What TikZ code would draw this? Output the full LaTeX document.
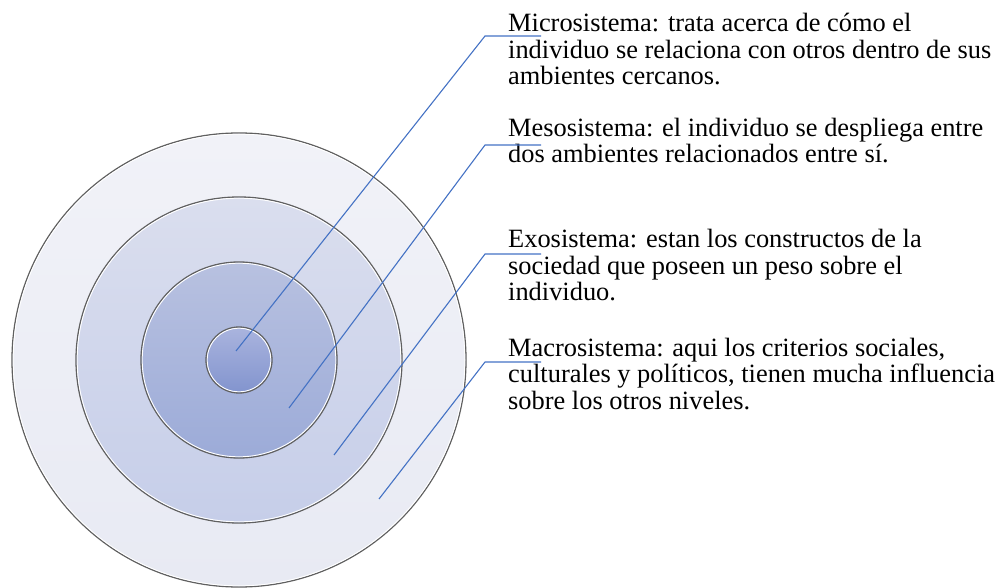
\documentclass[tikz,border=0pt]{standalone}
\usepackage{fontspec}
\setmainfont{Liberation Serif}
\begin{document}
\begin{tikzpicture}[x=1pt,y=-1pt,
  ring/.style={draw=gray!75!black, line width=1.3pt},
  ringin/.style={draw=white, line width=0.9pt},
  leader/.style={draw=leadc, line width=1.1pt},
  lbl/.style={anchor=base west, inner sep=0pt, align=left, font=\fontsize{26.4}{26.5}\selectfont}]
\definecolor{leadc}{HTML}{4472C4}
\useasboundingbox (0,0) rectangle (1002,588);
\coordinate (c) at (239,360);
% rings
\shade[top color={rgb,255:red,241;green,242;blue,248}, bottom color={rgb,255:red,232;green,234;blue,243}] (c) circle[radius=227];
\draw[ring] (c) circle[radius=227];
\draw[ringin] (c) circle[radius=225.8];
\shade[top color={rgb,255:red,218;green,222;blue,238}, bottom color={rgb,255:red,198;green,206;blue,233}] (c) circle[radius=163];
\draw[ring] (c) circle[radius=163];
\draw[ringin] (c) circle[radius=161.8];
\shade[top color={rgb,255:red,184;green,193;blue,224}, bottom color={rgb,255:red,156;green,171;blue,216}] (c) circle[radius=98];
\draw[ring] (c) circle[radius=98];
\draw[ringin] (c) circle[radius=96.8];
\shade[top color={rgb,255:red,170;green,180;blue,222}, bottom color={rgb,255:red,130;green,148;blue,206}] (c) circle[radius=33];
\draw[ring] (c) circle[radius=33];
\draw[ringin] (c) circle[radius=31.8];
% labels (anchored at the baseline of their last line)
\node[lbl] (micro) at (508,85) {Microsistema: trata acerca de cómo el\\individuo se relaciona con otros dentro de sus\\ambientes cercanos.};
\node[lbl] (meso) at (508,163) {Mesosistema: el individuo se despliega entre\\dos ambientes relacionados entre sí.};
\node[lbl] (exo) at (508,301) {Exosistema: estan los constructos de la\\sociedad que poseen un peso sobre el\\individuo.};
\node[lbl] (macro) at (508,409) {Macrosistema: aqui los criterios sociales,\\culturales y políticos, tienen mucha influencia\\sobre los otros niveles.};
% leader points
\coordinate (p1) at (236,351);
\coordinate (p2) at (289,408);
\coordinate (p3) at (334,455);
\coordinate (p4) at (379,499);
\coordinate (k1) at (485,36);
\coordinate (k2) at (485,145);
\coordinate (k3) at (485,254);
\coordinate (k4) at (485,362);
\coordinate (e1) at (541,36);
\coordinate (e2) at (541,145);
\coordinate (e3) at (541,254);
\coordinate (e4) at (541,362);
\draw[leader] (p1) -- (k1) -- (e1);
\draw[leader] (p2) -- (k2) -- (e2);
\draw[leader] (p3) -- (k3) -- (e3);
\draw[leader] (p4) -- (k4) -- (e4);
\end{tikzpicture}
\end{document}
